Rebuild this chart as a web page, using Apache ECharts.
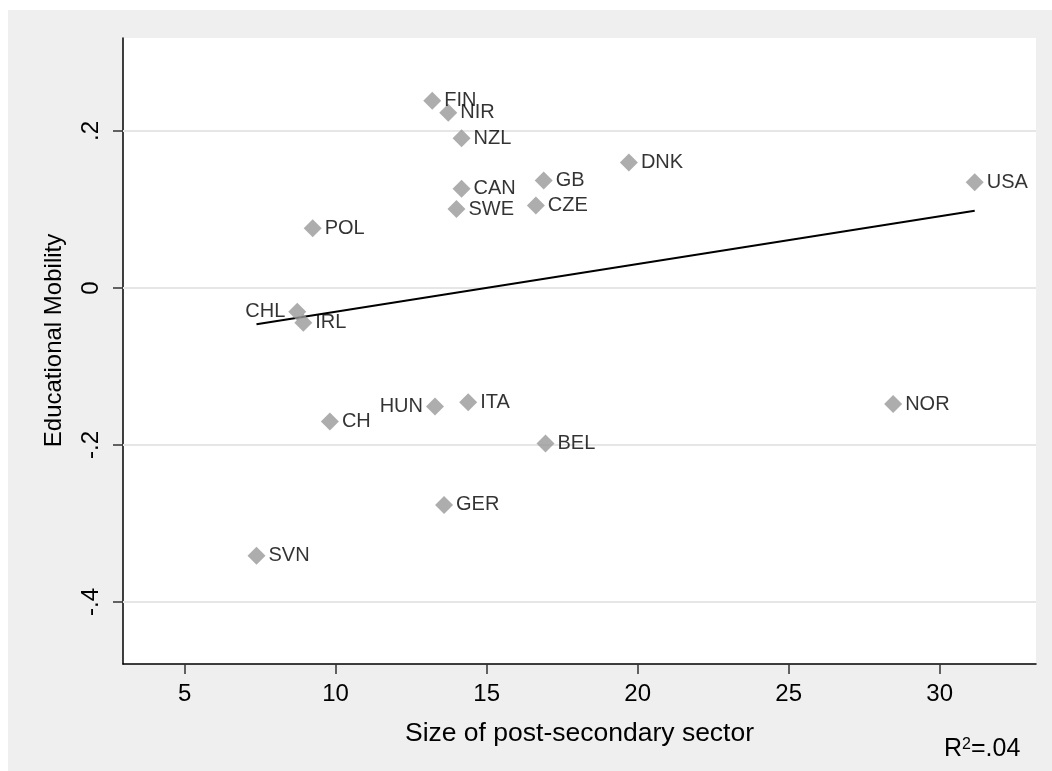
<!DOCTYPE html>
<html><head><meta charset="utf-8">
<script src="https://cdn.jsdelivr.net/npm/echarts@6/dist/echarts.min.js"></script>
<style>html,body{margin:0;padding:0;background:#fff;}#c{position:absolute;left:8px;top:10px;width:1044px;height:761px;}</style>
</head><body><div id="c"></div>
<script>
const countries = ['FIN','NIR','NZL','CAN','SWE','POL','GB','CZE','DNK','USA','CHL','IRL','CH','HUN','ITA','BEL','GER','SVN','NOR'];
const sizePS   = [13.20, 13.73, 14.17, 14.17, 14.00, 9.24, 16.89, 16.63, 19.71, 31.16, 8.73, 8.93, 9.81, 13.29, 14.39, 16.95, 13.59, 7.38, 28.46];
const eduMob   = [0.2386, 0.2233, 0.1907, 0.1265, 0.1006, 0.0760, 0.1370, 0.1050, 0.1600, 0.1346, -0.0302, -0.0442, -0.1700, -0.1510, -0.1456, -0.1980, -0.2764, -0.3410, -0.1478];
const leftLabeled = ['CHL','HUN'];
const fitX = [7.38, 31.16];
const fitY = [-0.0462, 0.0985];
const xTicks = [5, 10, 15, 20, 25, 30];
const yTicks = [-0.4, -0.2, 0, 0.2];
const yTickLabels = ['-.4', '-.2', '0', '.2'];
const xTitle = 'Size of post-secondary sector';
const yTitle = 'Educational Mobility';

const FONT = "'Liberation Sans', Arial, sans-serif";
const chart = echarts.init(document.getElementById('c'));

const points = countries.map((c, i) => ({
  value: [sizePS[i], eduMob[i]],
  name: c,
  label: { position: leftLabeled.includes(c) ? 'left' : 'right' }
}));

chart.setOption({
  animation: false,
  backgroundColor: '#efefef',
  textStyle: { fontFamily: FONT },
  grid: { left: 115, top: 28, width: 913, height: 626, show: true, backgroundColor: '#ffffff', borderWidth: 0, containLabel: false },
  title: {
    text: 'R{s|2}=.04',
    left: 931, top: 722,
    textStyle: {
      fontFamily: FONT, fontSize: 25, fontWeight: 'normal', color: '#000',
      rich: { s: { fontFamily: FONT, fontSize: 16, color: '#000', verticalAlign: 'top', lineHeight: 14 } }
    }
  },
  xAxis: {
    type: 'value', min: 2.96, max: 33.19,
    name: xTitle, nameLocation: 'middle', nameGap: 56,
    nameTextStyle: { fontFamily: FONT, fontSize: 26.5, color: '#000' },
    axisLine: { show: true, onZero: false, lineStyle: { color: '#000', width: 1.5 } },
    axisTick: { show: true, length: 10, lineStyle: { color: '#333', width: 1.5 }, customValues: xTicks },
    axisLabel: { fontFamily: FONT, fontSize: 24, color: '#000', margin: 18, customValues: xTicks, showMinLabel: true, showMaxLabel: true },
    splitLine: { show: false }
  },
  yAxis: {
    type: 'value', min: -0.479, max: 0.3185,
    name: yTitle, nameLocation: 'middle', nameGap: 57, nameRotate: 90,
    nameTextStyle: { fontFamily: FONT, fontSize: 24, color: '#000', padding: [0, 0, 0, 21] },
    axisLine: { show: true, onZero: false, lineStyle: { color: '#000', width: 1.5 } },
    axisTick: { show: true, length: 10, lineStyle: { color: '#333', width: 1.5 }, customValues: yTicks },
    axisLabel: {
      fontFamily: FONT, fontSize: 24, color: '#000', margin: 20, rotate: 90, customValues: yTicks,
      formatter: v => { const k = yTicks.findIndex(t => Math.abs(t - v) < 1e-9); return k >= 0 ? yTickLabels[k] : ''; }
    },
    splitLine: { show: false }
  },
  series: [
    {
      type: 'line', data: [], z: 1, silent: true,
      markLine: {
        silent: true, z: 1, symbol: ['none', 'none'], label: { show: false },
        lineStyle: { color: '#e6e6e6', width: 2, type: 'solid' },
        emphasis: { disabled: true },
        data: yTicks.map(t => ({ yAxis: t }))
      }
    },
    {
      type: 'line', z: 3, silent: true,
      data: fitX.map((x, i) => [x, fitY[i]]),
      symbol: 'none', lineStyle: { color: '#000', width: 2 }
    },
    {
      type: 'scatter', z: 4, symbol: 'diamond', symbolSize: 18,
      itemStyle: { color: '#999999' },
      data: points,
      label: { show: true, formatter: p => p.name, fontFamily: FONT, fontSize: 20, color: '#000', distance: 3 }
    }
  ]
});
</script></body></html>
